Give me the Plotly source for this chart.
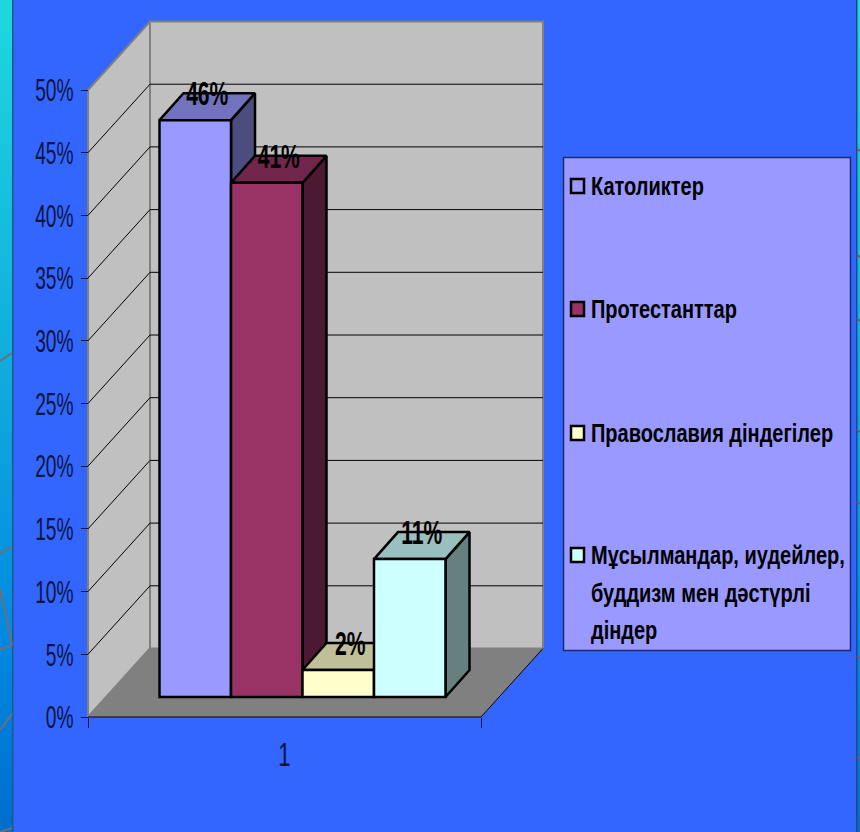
import plotly.graph_objects as go

W, H = 860, 832

categories = ["Католиктер", "Протестанттар", "Православия діндегілер", "Мұсылмандар, иудейлер, буддизм мен дәстүрлі діндер"]
values = [46, 41, 2.15, 11]
value_labels = ["46%", "41%", "2%", "11%"]
fills = ["#9999FF", "#993366", "#FFFFCC", "#CCFFFF"]
y_ticks = [0, 5, 10, 15, 20, 25, 30, 35, 40, 45, 50]
x_label = "1"
legend_lines = [["Католиктер"], ["Протестанттар"], ["Православия діндегілер"],
                ["Мұсылмандар, иудейлер,", "буддизм мен дәстүрлі", "діндер"]]

# pixel geometry of the Excel-style 3-D frame
X_L, X_R = 88, 481
Y_0, Y_50 = 717, 90
PX_X = X_R - X_L            # px per x unit
PX_Y = (Y_0 - Y_50) / 50    # px per percent
xr = lambda shift: [0.5 - (X_L + shift) / PX_X, 0.5 + (W - X_L - shift) / PX_X]
yr = lambda shift: [-(H - Y_0 + shift) / PX_Y, (Y_0 - shift) / PX_Y]

# depth offsets in data units
WALL_DX, WALL_DY = 62 / PX_X, 68.5 / PX_Y
BAR_OX, BAR_OY = 18 / PX_X, 20 / PX_Y
BAR_DX, BAR_DY = 24 / PX_X, 27 / PX_Y
GAP = 1 - 286 / 393
BW = (1 - GAP) / len(values)
FONT = "Liberation Sans, Arial, sans-serif"


def shade(hex_color, k):
    r, g, b = (int(hex_color[i:i + 2], 16) for i in (1, 3, 5))
    return f"rgb({int(r * k)},{int(g * k)},{int(b * k)})"


def poly(xs, ys, fill, line="rgba(0,0,0,0)", lw=0):
    return go.Scatter(x=xs + xs[:1], y=ys + ys[:1], mode="lines", fill="toself", fillcolor=fill,
                      line=dict(color=line, width=lw), hoverinfo="skip", showlegend=False,
                      xaxis="x", yaxis="y")


fig = go.Figure()

# walls and floor
fig.add_trace(poly([0.5, 0.5 + WALL_DX, 0.5 + WALL_DX, 0.5], [50, 50 + WALL_DY, WALL_DY, 0], "#C0C0C0", "#808080", 2))
fig.add_trace(poly([0.5 + WALL_DX, 1.5 + WALL_DX, 1.5 + WALL_DX, 0.5 + WALL_DX],
                   [WALL_DY, WALL_DY, 50 + WALL_DY, 50 + WALL_DY], "#C0C0C0", "#808080", 2))
fig.add_trace(poly([0.5, 1.5, 1.5 + WALL_DX, 0.5 + WALL_DX], [0, 0, WALL_DY, WALL_DY], "#808080", "#808080", 1))

# gridlines
for t in y_ticks[1:-1]:
    fig.add_trace(go.Scatter(x=[0.5, 0.5 + WALL_DX, 1.5 + WALL_DX], y=[t, t + WALL_DY, t + WALL_DY], mode="lines",
                             line=dict(color="black", width=1), hoverinfo="skip", showlegend=False))
fig.add_trace(go.Scatter(x=[0.5, 1.5, 1.5 + WALL_DX], y=[0, 0, WALL_DY], mode="lines",
                         line=dict(color="black", width=1), hoverinfo="skip", showlegend=False))

# depth faces of the bars
for i, (v, c) in enumerate(zip(values, fills)):
    l = 1 - (1 - GAP) / 2 + i * BW + BAR_OX
    r = l + BW
    fig.add_trace(poly([r, r + BAR_DX, r + BAR_DX, r],
                       [BAR_OY + v, BAR_OY + v + BAR_DY, BAR_OY + BAR_DY, BAR_OY], shade(c, 0.5), "black", 2.5))
    fig.add_trace(poly([l, l + BAR_DX, r + BAR_DX, r],
                       [BAR_OY + v, BAR_OY + v + BAR_DY, BAR_OY + v + BAR_DY, BAR_OY + v], shade(c, 0.75), "black", 2.5))

# front faces
for name, v, c in zip(categories, values, fills):
    fig.add_trace(go.Bar(x=[1], y=[v], name=name, marker=dict(color=c, line=dict(color="black", width=2.5)),
                         xaxis="x2", yaxis="y2", showlegend=False, hovertemplate=name + ": %{y}%<extra></extra>"))

# data labels
centres = [1 - (1 - GAP) / 2 + (i + 0.5) * BW + 12 / PX_X for i in range(len(values))]
fig.add_trace(go.Scatter(x=centres, y=[v + 23.5 / PX_Y for v in values], mode="text", text=value_labels,
                         textposition="middle center",
                         textfont=dict(family=FONT, size=34, color="black", weight="bold"),
                         xaxis="x2", yaxis="y2", hoverinfo="skip", showlegend=False))

px = lambda x: x / W
py = lambda y: 1 - y / H
shapes, annotations = [], []


def rect(x0, y0, x1, y1, fill, line=None, lw=0):
    shapes.append(dict(type="rect", xref="paper", yref="paper", x0=px(x0), x1=px(x1), y0=py(y1), y1=py(y0),
                       fillcolor=fill, line=dict(color=line or "rgba(0,0,0,0)", width=lw), layer="below"))


def seg(x0, y0, x1, y1, color="#6E6E78", lw=2):
    shapes.append(dict(type="line", xref="paper", yref="paper", x0=px(x0), x1=px(x1), y0=py(y0), y1=py(y1),
                       line=dict(color=color, width=lw), layer="below"))


# side strips of the slide background
stops = [(0, (31, 216, 222)), (400, (16, 168, 222)), (650, (0, 136, 226)), (832, (0, 110, 204))]


def strip_color(y):
    for (a, ca), (b, cb) in zip(stops, stops[1:]):
        if a <= y <= b:
            t = (y - a) / (b - a)
            return "rgb(%d,%d,%d)" % tuple(ca[k] + (cb[k] - ca[k]) * t for k in range(3))
    return "rgb(0,110,204)"


step = 16
for y in range(0, H, step):
    c = strip_color(y + step / 2)
    rect(0, y, 12.5, y + step + 1, c)
    rect(857, y, 860, y + step + 1, c)
rect(12, 0, 13.5, H, "#1A5A8C")
rect(856, 0, 857.5, H, "#1A4A8C")
seg(0, 361, 12, 353)
seg(0, 554, 12, 546)
seg(0, 589, 12, 645)
seg(0, 650, 12, 645)
seg(0, 730, 12, 714)
seg(0, 832, 12, 828)
for y in (151, 257, 321, 432, 504, 658, 759):
    seg(857, y - 2, 860, y, "#8A4A60", 2)

# legend panel
rect(563.5, 157.5, 850.5, 650.5, "#9999FF", "#1A2A70", 1.5)
swatch_y = [186, 309, 433, 555]
line_h = 37.5
# narrower natural size so that the annotation boxes stay inside the page; scaled in the script below
for ys, lines, c in zip(swatch_y, legend_lines, fills):
    rect(571, ys - 7, 584, ys + 7, c, "black", 2.5)
    for k, t in enumerate(lines):
        annotations.append(dict(text=t, xref="paper", yref="paper", x=px(589), y=py(ys + k * line_h),
                                xanchor="left", yanchor="middle", align="left", showarrow=False,
                                font=dict(family=FONT, size=25, color="black", weight="bold")))

fig.update_layout(
    width=W, height=H, margin=dict(l=0, r=0, t=0, b=0), autosize=False,
    paper_bgcolor="#3366FF", plot_bgcolor="rgba(0,0,0,0)",
    barmode="group", bargap=GAP, bargroupgap=0, showlegend=False,
    shapes=shapes, annotations=annotations,
    xaxis=dict(domain=[0, 1], range=xr(0), anchor="free", position=1 - Y_0 / H,
               tickmode="array", tickvals=[1], ticktext=[x_label], ticks="", ticklabelstandoff=14,
               tickfont=dict(family=FONT, size=34, color="#0A1440"),
               minor=dict(tickmode="array", tickvals=[0.5, 1.5], ticks="outside", ticklen=10,
                          tickcolor="#0A1440", tickwidth=1),
               showgrid=False, zeroline=False, showline=False),
    yaxis=dict(domain=[0, 1], range=yr(0), anchor="free", position=X_L / W,
               tickmode="array", tickvals=y_ticks, ticktext=[f"{t}%" for t in y_ticks], ticks="outside",
               ticklen=7, tickcolor="#0A1440", tickwidth=1, ticklabelstandoff=1,
               tickfont=dict(family=FONT, size=32, color="#0A1440"),
               showgrid=False, zeroline=False, showline=False),
    xaxis2=dict(domain=[0, 1], range=xr(18), overlaying="x", anchor="y2", visible=False),
    yaxis2=dict(domain=[0, 1], range=yr(20), overlaying="y", anchor="x2", visible=False),
)

# the reference text is horizontally condensed: scale each text element about its anchor
squeeze = """
document.body.style.margin='0';document.body.style.overflow='hidden';
function sq(sel,f){document.querySelectorAll(sel).forEach(function(t){
  var x=parseFloat(t.getAttribute('x'))||0, old=t.getAttribute('transform')||'';
  t.setAttribute('transform',old+' translate('+x+',0) scale('+f+',1) translate('+(-x)+',0)');
});}
sq('.xtick text',0.65);sq('.ytick text',0.6);sq('.textpoint text',0.62);sq('.annotation-text',0.8);
"""
fig.write_html("out.html", config=dict(displayModeBar=False), post_script=squeeze)
